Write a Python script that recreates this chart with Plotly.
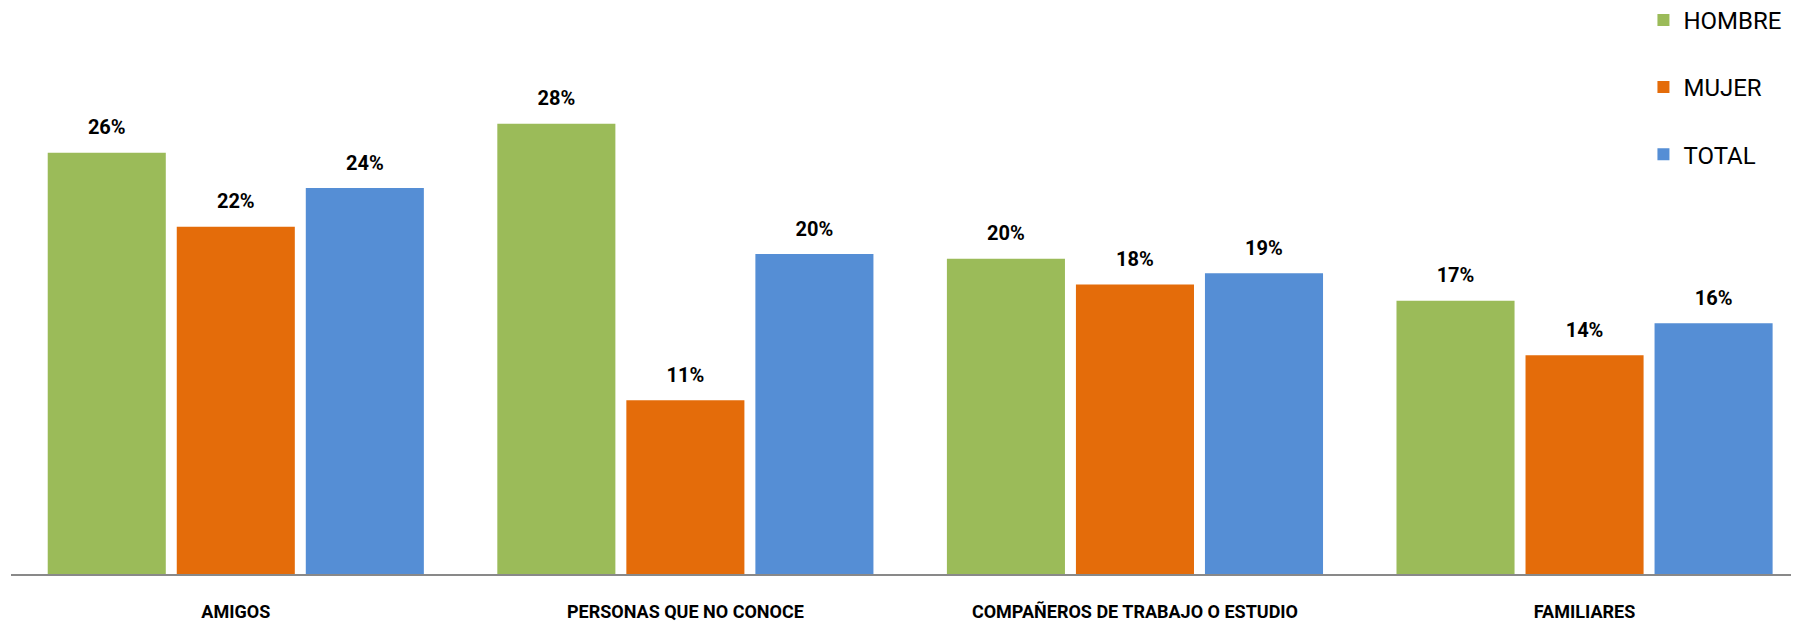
import plotly.graph_objects as go

categories = ["AMIGOS", "PERSONAS QUE NO CONOCE", "COMPAÑEROS DE TRABAJO O ESTUDIO", "FAMILIARES"]
hombre = [0.262, 0.280, 0.196, 0.170]
mujer = [0.216, 0.108, 0.180, 0.136]
total = [0.240, 0.199, 0.187, 0.156]

series = [("HOMBRE", hombre, "#9BBB59"), ("MUJER", mujer, "#E46C0A"), ("TOTAL", total, "#558ED5")]

fig = go.Figure()
for name, vals, color in series:
    fig.add_trace(go.Bar(
        x=categories, y=vals, name=name, marker_color=color,
        marker_line_width=0, legendgroup=name, offsetgroup=name,
        hoverinfo="skip",
    ))
for name, vals, color in series:
    fig.add_trace(go.Scatter(
        x=categories, y=vals, mode="markers+text", offsetgroup=name,
        text=[f"{round(v*100):.0f}%" for v in vals], textposition="top center",
        textfont=dict(family="Roboto", size=20, color="#000000", weight="bold"),
        marker=dict(size=20, opacity=0), showlegend=False, hoverinfo="skip",
        cliponaxis=False,
    ))

# page body has an 8px default margin, so the figure is sized to fit the window
fig.update_layout(
    width=1791, height=615,
    margin=dict(l=3, r=0, t=0, b=49, autoexpand=False),
    paper_bgcolor="white", plot_bgcolor="white",
    barmode="group", bargap=0.139, bargroupgap=0.085,
    scattermode="group", scattergap=0.139,
    font=dict(family="Roboto", color="#000000"),
    legend=dict(x=0.913, y=1.018, xanchor="left", yanchor="top",
                font=dict(size=24, family="Roboto"), tracegroupgap=33,
                bgcolor="rgba(0,0,0,0)"),
    showlegend=True,
)
fig.update_xaxes(
    range=[-0.5, 3.477], showline=True, linecolor="#898989", linewidth=2,
    showgrid=False, zeroline=False, ticks="outside", ticklen=20,
    tickcolor="rgba(0,0,0,0)", automargin=False,
    tickfont=dict(family="Roboto", size=18, color="#000000", weight="bold"),
)
fig.update_yaxes(range=[0, 0.352], visible=False, showgrid=False, zeroline=False)

fig.write_html("out.html")
